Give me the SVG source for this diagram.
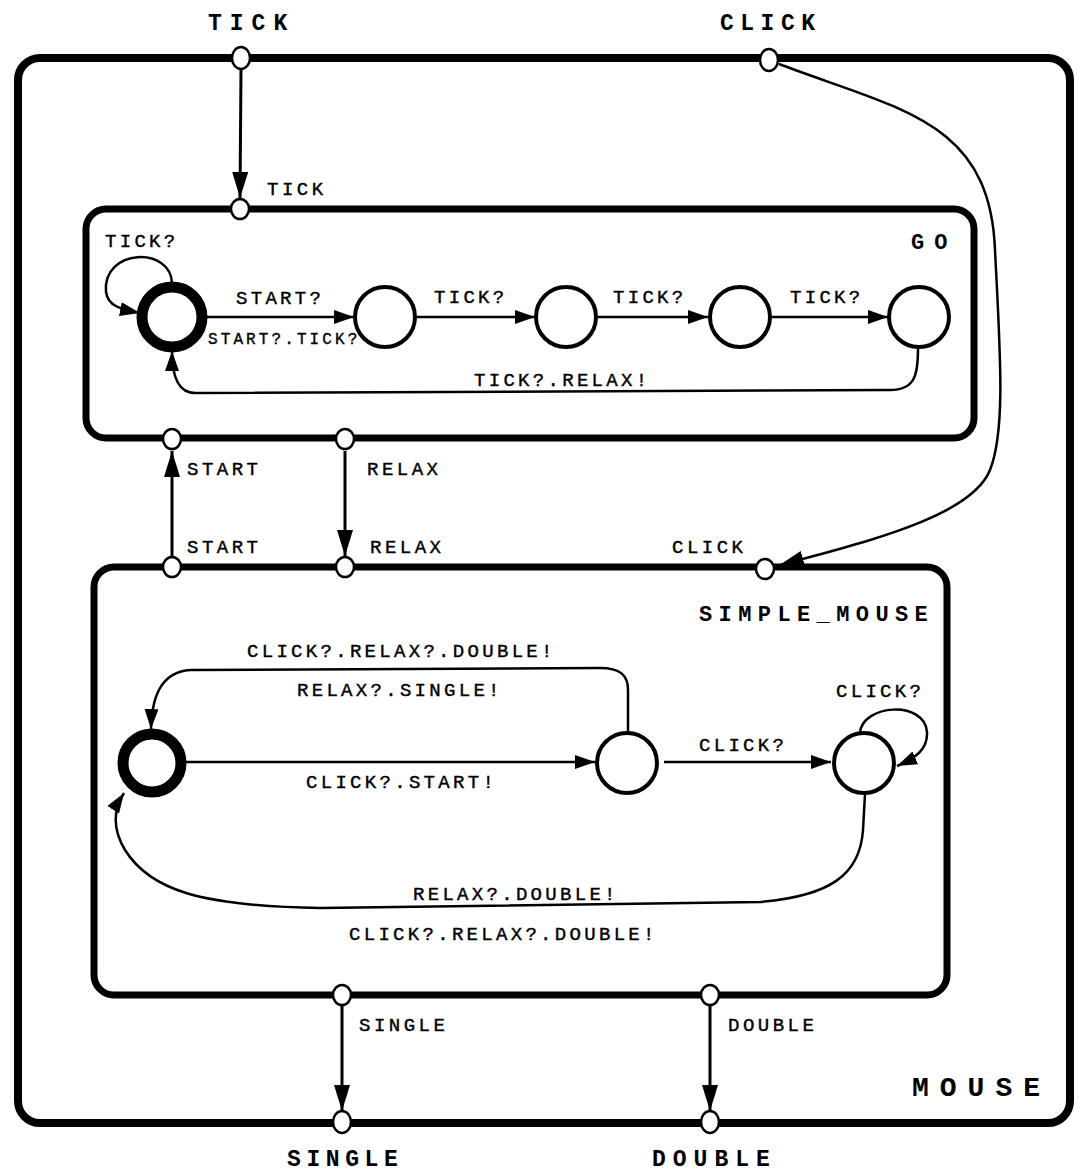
<svg xmlns="http://www.w3.org/2000/svg" width="1084" height="1176" viewBox="0 0 1084 1176">
<defs>
<style>
.box{fill:none;stroke:#000;stroke-linejoin:round}
.st{fill:#fff;stroke:#000;stroke-width:4}
.init{fill:#fff;stroke:#000;stroke-width:11}
.port{fill:#fff;stroke:#000;stroke-width:2.5}
.c{fill:none;stroke:#000;stroke-width:2.5}
.cb{fill:none;stroke:#000;stroke-width:3}
text{font-family:"Liberation Mono","Courier New",monospace;fill:#000}
.lb{font-size:19px;letter-spacing:3.3px;stroke:#000;stroke-width:0.4}
.ls{font-size:16px;letter-spacing:3.1px;stroke:#000;stroke-width:0.35}
.pl{font-size:19px;letter-spacing:3.5px;stroke:#000;stroke-width:0.4}
.bd{font-size:23px;font-weight:bold;letter-spacing:7px}
.nm{font-size:22px;font-weight:bold;letter-spacing:6.4px}
</style>
<marker id="big" markerWidth="26" markerHeight="16" refX="26" refY="8" orient="auto" markerUnits="userSpaceOnUse"><path d="M0,0 L26,8 L0,16 Z" fill="#000"/></marker>
<marker id="sm" markerWidth="20" markerHeight="14" refX="20" refY="7" orient="auto" markerUnits="userSpaceOnUse"><path d="M0,0 L20,7 L0,14 Z" fill="#000"/></marker>
</defs>
<rect width="1084" height="1176" fill="#fff"/>

<g id="MOUSE">
<rect class="box" x="18" y="58" width="1052" height="1065" rx="22" stroke-width="8"/>
<text class="bd" x="912" y="1096" style="font-size:28px;letter-spacing:11px">MOUSE</text>
</g>

<g id="GO">
<rect class="box" x="86" y="209" width="888" height="229" rx="20" stroke-width="7"/>
<text class="nm" x="911" y="249" style="letter-spacing:10px">GO</text>
</g>

<g id="SIMPLE_MOUSE">
<rect class="box" x="94" y="567" width="853" height="428" rx="20" stroke-width="7"/>
<text class="nm" x="699" y="621">SIMPLE_MOUSE</text>
</g>

<g id="connectors">
<line class="cb" x1="241" y1="69" x2="240" y2="198" marker-end="url(#big)"/>
<line class="cb" x1="172" y1="556" x2="172" y2="451" marker-end="url(#big)"/>
<line class="cb" x1="345" y1="451" x2="345" y2="556" marker-end="url(#big)"/>
<line class="cb" x1="342" y1="1006" x2="342" y2="1111" marker-end="url(#big)"/>
<line class="cb" x1="710" y1="1006" x2="710" y2="1111" marker-end="url(#big)"/>
<path class="c" d="M779 64 C 900 110, 990 120, 995 250 C 1000 350, 1006 430, 990 470 C 970 520, 850 545, 778 566" marker-end="url(#big)"/>
<!-- GO transitions -->
<path class="c" d="M172 284 C 172 246, 102 248, 106 292 C 108 306, 120 309, 140 313" marker-end="url(#sm)"/>
<line class="c" x1="203" y1="317" x2="354" y2="317" marker-end="url(#sm)"/>
<line class="c" x1="416" y1="317" x2="535" y2="317" marker-end="url(#sm)"/>
<line class="c" x1="598" y1="317" x2="708" y2="317" marker-end="url(#sm)"/>
<line class="c" x1="771" y1="317" x2="888" y2="317" marker-end="url(#sm)"/>
<path class="c" d="M918 349 C 918 375, 915 390, 890 390 L 195 393 C 180 393, 172 380, 172 351" marker-end="url(#sm)"/>
<!-- SIMPLE_MOUSE transitions -->
<line class="c" x1="186" y1="762" x2="595" y2="762" marker-end="url(#sm)"/>
<line class="c" x1="664" y1="762" x2="831" y2="762" marker-end="url(#sm)"/>
<path class="c" d="M860 733 C 862 704, 925 700, 927 732 C 928 750, 915 758, 897 766" marker-end="url(#sm)"/>
<path class="c" d="M628 733 L 628 690 C 628 675, 620 668, 600 668 L 190 670 C 165 672, 152 690, 151 729" marker-end="url(#sm)"/>
<path class="c" d="M865 794 L 863 830 C 860 875, 830 896, 760 902 L 320 908 C 200 906, 150 890, 125 850 C 112 828, 113 810, 124 793" marker-end="url(#sm)"/>
</g>

<g id="states">
<circle id="go_s0" class="init" cx="172" cy="317" r="30"/>
<circle id="go_s1" class="st" cx="385" cy="317" r="30"/>
<circle id="go_s2" class="st" cx="566" cy="317" r="30"/>
<circle id="go_s3" class="st" cx="740" cy="317" r="30"/>
<circle id="go_s4" class="st" cx="919" cy="317" r="30"/>
<circle id="sm_s0" class="init" cx="152" cy="763" r="29"/>
<circle id="sm_s1" class="st" cx="627" cy="763" r="30"/>
<circle id="sm_s2" class="st" cx="864" cy="763" r="30"/>
</g>

<g id="ports">
<ellipse class="port" cx="241" cy="58" rx="9" ry="11"/>
<ellipse class="port" cx="769" cy="60" rx="9" ry="11"/>
<ellipse class="port" cx="240" cy="209" rx="9" ry="10"/>
<ellipse class="port" cx="172" cy="439" rx="9" ry="10"/>
<ellipse class="port" cx="345" cy="439" rx="9" ry="10"/>
<ellipse class="port" cx="172" cy="567" rx="9" ry="10"/>
<ellipse class="port" cx="345" cy="567" rx="9" ry="10"/>
<ellipse class="port" cx="765" cy="569" rx="9" ry="10"/>
<ellipse class="port" cx="342" cy="995" rx="9" ry="10"/>
<ellipse class="port" cx="710" cy="995" rx="9" ry="10"/>
<ellipse class="port" cx="342" cy="1122" rx="9" ry="11"/>
<ellipse class="port" cx="710" cy="1122" rx="9" ry="11"/>
</g>

<g id="labels">
<text class="bd" x="208" y="30" style="letter-spacing:8px">TICK</text>
<text class="bd" x="720" y="30" style="letter-spacing:6.5px">CLICK</text>
<text class="pl" x="267" y="195">TICK</text>
<text class="lb" x="105" y="247">TICK?</text>
<text class="lb" x="236" y="304">START?</text>
<text class="lb" x="434" y="303">TICK?</text>
<text class="lb" x="613" y="303">TICK?</text>
<text class="lb" x="790" y="303">TICK?</text>
<text class="ls" x="208" y="344">START?.TICK?</text>
<text class="lb" x="474" y="386">TICK?.RELAX!</text>
<text class="pl" x="187" y="475">START</text>
<text class="pl" x="367" y="475">RELAX</text>
<text class="pl" x="187" y="553">START</text>
<text class="pl" x="370" y="553">RELAX</text>
<text class="pl" x="672" y="553">CLICK</text>
<text class="lb" x="247" y="657">CLICK?.RELAX?.DOUBLE!</text>
<text class="lb" x="297" y="696">RELAX?.SINGLE!</text>
<text class="lb" x="836" y="697">CLICK?</text>
<text class="lb" x="699" y="751">CLICK?</text>
<text class="lb" x="306" y="788">CLICK?.START!</text>
<text class="lb" x="413" y="900">RELAX?.DOUBLE!</text>
<text class="lb" x="349" y="940">CLICK?.RELAX?.DOUBLE!</text>
<text class="pl" x="359" y="1031">SINGLE</text>
<text class="pl" x="728" y="1031">DOUBLE</text>
<text class="bd" x="287" y="1166" style="letter-spacing:5.6px">SINGLE</text>
<text class="bd" x="652" y="1166" style="letter-spacing:7px">DOUBLE</text>
</g>
</svg>
